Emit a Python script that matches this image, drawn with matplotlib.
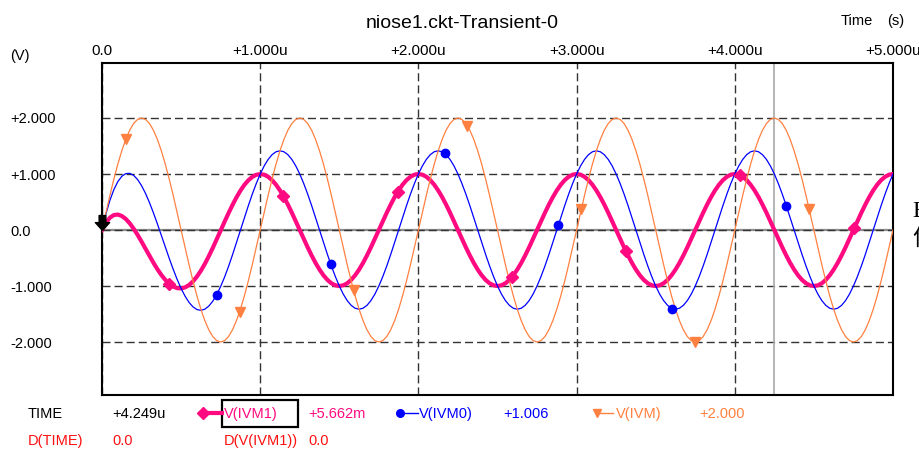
import numpy as np
import matplotlib
matplotlib.use("Agg")
import matplotlib.pyplot as plt
from matplotlib.path import Path
from matplotlib.lines import Line2D
from matplotlib.patches import Rectangle

plt.rcParams['font.family'] = ['Liberation Sans', 'DejaVu Sans']

# ---------------- data ----------------
# sample grid: 0 .. 5 us, every 0.025 us
time_us = np.linspace(0.0, 5.0, 201)

# V(IVM) orange
v_ivm = [
    0.0, 0.313, 0.618, 0.908, 1.176, 1.414, 1.618, 1.782, 1.902, 1.975,
    2.0, 1.975, 1.902, 1.782, 1.618, 1.414, 1.176, 0.908, 0.618, 0.313,
    0.0, -0.313, -0.618, -0.908, -1.176, -1.414, -1.618, -1.782, -1.902, -1.975,
    -2.0, -1.975, -1.902, -1.782, -1.618, -1.414, -1.176, -0.908, -0.618, -0.313,
    0.0, 0.313, 0.618, 0.908, 1.176, 1.414, 1.618, 1.782, 1.902, 1.975,
    2.0, 1.975, 1.902, 1.782, 1.618, 1.414, 1.176, 0.908, 0.618, 0.313,
    0.0, -0.313, -0.618, -0.908, -1.176, -1.414, -1.618, -1.782, -1.902, -1.975,
    -2.0, -1.975, -1.902, -1.782, -1.618, -1.414, -1.176, -0.908, -0.618, -0.313,
    0.0, 0.313, 0.618, 0.908, 1.176, 1.414, 1.618, 1.782, 1.902, 1.975,
    2.0, 1.975, 1.902, 1.782, 1.618, 1.414, 1.176, 0.908, 0.618, 0.313,
    0.0, -0.313, -0.618, -0.908, -1.176, -1.414, -1.618, -1.782, -1.902, -1.975,
    -2.0, -1.975, -1.902, -1.782, -1.618, -1.414, -1.176, -0.908, -0.618, -0.313,
    0.0, 0.313, 0.618, 0.908, 1.176, 1.414, 1.618, 1.782, 1.902, 1.975,
    2.0, 1.975, 1.902, 1.782, 1.618, 1.414, 1.176, 0.908, 0.618, 0.313,
    0.0, -0.313, -0.618, -0.908, -1.176, -1.414, -1.618, -1.782, -1.902, -1.975,
    -2.0, -1.975, -1.902, -1.782, -1.618, -1.414, -1.176, -0.908, -0.618, -0.313,
    0.0, 0.313, 0.618, 0.908, 1.176, 1.414, 1.618, 1.782, 1.902, 1.975,
    2.0, 1.975, 1.902, 1.782, 1.618, 1.414, 1.176, 0.908, 0.618, 0.313,
    0.0, -0.313, -0.618, -0.908, -1.176, -1.414, -1.618, -1.782, -1.902, -1.975,
    -2.0, -1.975, -1.902, -1.782, -1.618, -1.414, -1.176, -0.908, -0.618, -0.313,
    0.0,
]

# V(IVM1) pink (thick)
v_ivm1 = [
    0.0, 0.133, 0.221, 0.267, 0.276, 0.251, 0.198, 0.121, 0.024, -0.087,
    -0.208, -0.334, -0.461, -0.584, -0.699, -0.802, -0.890, -0.960, -1.010, -1.038,
    -1.043, -1.025, -0.983, -0.918, -0.832, -0.727, -0.605, -0.468, -0.321, -0.167,
    -0.009, 0.149, 0.302, 0.448, 0.583, 0.703, 0.806, 0.888, 0.949, 0.986,
    0.998,
    0.988, 0.951, 0.891, 0.809, 0.707, 0.588, 0.454, 0.309, 0.156, 0.0,
    -0.156, -0.309, -0.454, -0.588, -0.707, -0.809, -0.891, -0.951, -0.988, -1.0,
    -0.988, -0.951, -0.891, -0.809, -0.707, -0.588, -0.454, -0.309, -0.156, 0.0,
    0.156, 0.309, 0.454, 0.588, 0.707, 0.809, 0.891, 0.951, 0.988, 1.0,
    0.988, 0.951, 0.891, 0.809, 0.707, 0.588, 0.454, 0.309, 0.156, 0.0,
    -0.156, -0.309, -0.454, -0.588, -0.707, -0.809, -0.891, -0.951, -0.988, -1.0,
    -0.988, -0.951, -0.891, -0.809, -0.707, -0.588, -0.454, -0.309, -0.156, 0.0,
    0.156, 0.309, 0.454, 0.588, 0.707, 0.809, 0.891, 0.951, 0.988, 1.0,
    0.988, 0.951, 0.891, 0.809, 0.707, 0.588, 0.454, 0.309, 0.156, 0.0,
    -0.156, -0.309, -0.454, -0.588, -0.707, -0.809, -0.891, -0.951, -0.988, -1.0,
    -0.988, -0.951, -0.891, -0.809, -0.707, -0.588, -0.454, -0.309, -0.156, 0.0,
    0.156, 0.309, 0.454, 0.588, 0.707, 0.809, 0.891, 0.951, 0.988, 1.0,
    0.988, 0.951, 0.891, 0.809, 0.707, 0.588, 0.454, 0.309, 0.156, 0.0,
    -0.156, -0.309, -0.454, -0.588, -0.707, -0.809, -0.891, -0.951, -0.988, -1.0,
    -0.988, -0.951, -0.891, -0.809, -0.707, -0.588, -0.454, -0.309, -0.156, 0.0,
    0.156, 0.309, 0.454, 0.588, 0.707, 0.809, 0.891, 0.951, 0.988, 1.0,
]

# V(IVM0) blue
v_ivm0 = [
    0.0, 0.290, 0.530, 0.721, 0.863, 0.958, 1.007, 1.012, 0.976, 0.901,
    0.792, 0.654, 0.490, 0.307, 0.110, -0.095, -0.302, -0.506, -0.701, -0.882,
    -1.043, -1.181, -1.292, -1.372, -1.420, -1.434, -1.414, -1.359, -1.272, -1.155,
    -1.009, -0.839, -0.649, -0.443, -0.226, -0.004, 0.218, 0.434, 0.640, 0.829,
    0.998,
    1.144, 1.260, 1.345, 1.397, 1.414, 1.397, 1.345, 1.260, 1.144, 1.0,
    0.831, 0.642, 0.437, 0.221, 0.0, -0.221, -0.437, -0.642, -0.831, -1.0,
    -1.144, -1.260, -1.345, -1.397, -1.414, -1.397, -1.345, -1.260, -1.144, -1.0,
    -0.831, -0.642, -0.437, -0.221, 0.0, 0.221, 0.437, 0.642, 0.831, 1.0,
    1.144, 1.260, 1.345, 1.397, 1.414, 1.397, 1.345, 1.260, 1.144, 1.0,
    0.831, 0.642, 0.437, 0.221, 0.0, -0.221, -0.437, -0.642, -0.831, -1.0,
    -1.144, -1.260, -1.345, -1.397, -1.414, -1.397, -1.345, -1.260, -1.144, -1.0,
    -0.831, -0.642, -0.437, -0.221, 0.0, 0.221, 0.437, 0.642, 0.831, 1.0,
    1.144, 1.260, 1.345, 1.397, 1.414, 1.397, 1.345, 1.260, 1.144, 1.0,
    0.831, 0.642, 0.437, 0.221, 0.0, -0.221, -0.437, -0.642, -0.831, -1.0,
    -1.144, -1.260, -1.345, -1.397, -1.414, -1.397, -1.345, -1.260, -1.144, -1.0,
    -0.831, -0.642, -0.437, -0.221, 0.0, 0.221, 0.437, 0.642, 0.831, 1.0,
    1.144, 1.260, 1.345, 1.397, 1.414, 1.397, 1.345, 1.260, 1.144, 1.0,
    0.831, 0.642, 0.437, 0.221, 0.0, -0.221, -0.437, -0.642, -0.831, -1.0,
    -1.144, -1.260, -1.345, -1.397, -1.414, -1.397, -1.345, -1.260, -1.144, -1.0,
    -0.831, -0.642, -0.437, -0.221, 0.0, 0.221, 0.437, 0.642, 0.831, 1.0,
]

# curve markers
ivm1_mark_t = [0.424, 1.146, 1.868, 2.590, 3.312, 4.034, 4.756]
ivm1_mark_v = [-0.958, 0.608, 0.675, -0.844, -0.380, 0.977, 0.038]
ivm0_mark_t = [0.725, 1.445, 2.165, 2.885, 3.605, 4.325]
ivm0_mark_v = [-1.155, -0.602, 1.370, 0.089, -1.403, 0.437]
ivm_mark_t = [0.150, 0.870, 1.590, 2.310, 3.030, 3.750, 4.470]
ivm_mark_v = [1.618, -1.458, -1.072, 1.859, 0.375, -2.000, 0.375]

cursor_t = 4.249

x_ticks = [0, 1, 2, 3, 4, 5]
x_tick_labels = ["0.0", "+1.000u", "+2.000u", "+3.000u", "+4.000u", "+5.000u"]
y_ticks = [-2, -1, 0, 1, 2]
y_tick_labels = ["-2.000", "-1.000", "0.0", "+1.000", "+2.000"]

readout_time = "+4.249u"
readout_ivm1 = "+5.662m"
readout_ivm0 = "+1.006"
readout_ivm = "+2.000"

# ---------------- styling ----------------
PINK = '#ff0a80'
BLUE = '#0000ff'
ORANGE = '#ff8040'
RED = '#ff1010'
W, H = 920, 451

def fx(x):
    return x / W

def fy(y):
    return 1 - y / H

fig = plt.figure(figsize=(9.2, 4.51), dpi=100)
ax = fig.add_axes([102 / W, 56 / H, 791 / W, 332 / H])
ax.set_xlim(0, 5)
ax.set_ylim(-2.946, 2.982)

ax.set_xticks(x_ticks)
ax.set_xticklabels(x_tick_labels)
ax.xaxis.tick_top()
ax.tick_params(axis='x', length=0, pad=3.6, labelsize=11)
ax.set_yticks(y_ticks)
ax.set_yticklabels(y_tick_labels)
ax.tick_params(axis='y', length=0, pad=66.2, labelsize=10.5)
for lab in ax.get_yticklabels():
    lab.set_horizontalalignment('left')

ax.grid(True, color='#333333', lw=1.0, linestyle=(0, (5.8, 2.9)))
for sp in ax.spines.values():
    sp.set_linewidth(1.5)
    sp.set_color('black')

ax.axhline(0, color='#8c8c8c', lw=1.6, zorder=1.2)
ax.axvline(cursor_t, color='#a8a8a8', lw=1.2, zorder=1.6)

ax.plot(time_us, v_ivm1, color=PINK, lw=3.0, zorder=3, solid_joinstyle='round')
ax.plot(time_us, v_ivm0, color=BLUE, lw=0.9, zorder=3.2)
ax.plot(time_us, v_ivm, color=ORANGE, lw=0.9, zorder=3.4)

ax.plot(ivm1_mark_t, ivm1_mark_v, linestyle='none', marker='D', ms=6, color=PINK, zorder=4)
ax.plot(ivm0_mark_t, ivm0_mark_v, linestyle='none', marker='o', ms=6, color=BLUE, zorder=4)
ax.plot(ivm_mark_t, ivm_mark_v, linestyle='none', marker='v', ms=6.5, color=ORANGE, zorder=4)

# black cursor arrow at start
arrow_verts = [(-0.45, 2.0), (0.45, 2.0), (0.45, 1.05), (0.95, 1.05), (0.0, 0.0),
               (-0.95, 1.05), (-0.45, 1.05), (-0.45, 2.0)]
arrow = Path(arrow_verts, closed=True)
ax.plot([time_us[0]], [v_ivm1[0]], linestyle='none', marker=arrow, ms=21.6,
        color='black', clip_on=False, zorder=6)

# titles / units
fig.text(fx(462.5), fy(27.7), 'niose1.ckt-Transient-0', ha='center', va='baseline', size=14)
fig.text(fx(841), fy(25), 'Time', ha='left', va='baseline', size=10.5)
fig.text(fx(887), fy(25), '(s)', ha='left', va='baseline', size=10.5)
fig.text(fx(10), fy(60.2), '(V)', ha='left', va='baseline', size=10.5)

# readout rows
r1, r2 = 418, 445
fs = 10.5
fig.text(fx(28), fy(r1), 'TIME', color='black', size=fs, va='baseline')
fig.text(fx(112), fy(r1), readout_time, color='black', size=fs, va='baseline')
fig.text(fx(224), fy(r1), 'V(IVM1)', color=PINK, size=fs, va='baseline')
fig.text(fx(308), fy(r1), readout_ivm1, color=PINK, size=fs, va='baseline')
fig.text(fx(419), fy(r1), 'V(IVM0)', color=BLUE, size=fs, va='baseline')
fig.text(fx(503), fy(r1), readout_ivm0, color=BLUE, size=fs, va='baseline')
fig.text(fx(616), fy(r1), 'V(IVM)', color=ORANGE, size=fs, va='baseline')
fig.text(fx(699), fy(r1), readout_ivm, color=ORANGE, size=fs, va='baseline')

fig.text(fx(28), fy(r2), 'D(TIME)', color=RED, size=fs, va='baseline')
fig.text(fx(112), fy(r2), '0.0', color=RED, size=fs, va='baseline')
fig.text(fx(224), fy(r2), 'D(V(IVM1))', color=RED, size=fs, va='baseline')
fig.text(fx(308), fy(r2), '0.0', color=RED, size=fs, va='baseline')

ly = 412.5
fig.add_artist(Line2D([fx(203), fx(222)], [fy(ly), fy(ly)], color=PINK, lw=3.0,
                      transform=fig.transFigure))
fig.add_artist(Line2D([fx(203)], [fy(ly)], color=PINK, marker='D', ms=6,
                      transform=fig.transFigure))
fig.add_artist(Line2D([fx(400), fx(418)], [fy(ly), fy(ly)], color=BLUE, lw=1.0,
                      transform=fig.transFigure))
fig.add_artist(Line2D([fx(400)], [fy(ly)], color=BLUE, marker='o', ms=5.5,
                      transform=fig.transFigure))
fig.add_artist(Line2D([fx(597), fx(613)], [fy(ly), fy(ly)], color=ORANGE, lw=1.0,
                      transform=fig.transFigure))
fig.add_artist(Line2D([fx(597)], [fy(ly)], color=ORANGE, marker='v', ms=6,
                      transform=fig.transFigure))
fig.add_artist(Rectangle((fx(222), fy(427)), 76 / W, 27 / H, fill=False,
                         edgecolor='black', lw=1.6, transform=fig.transFigure))

# clipped text at the right edge of the picture (as in the reference)
fig.text(fx(912), fy(217), 'E', family=['Liberation Serif', 'DejaVu Serif'], size=17, va='baseline')
fig.text(fx(912), fy(246), '仿', family=['Noto Sans CJK SC', 'DejaVu Sans'], size=17, va='baseline')

fig.savefig('out.png', dpi=100)
